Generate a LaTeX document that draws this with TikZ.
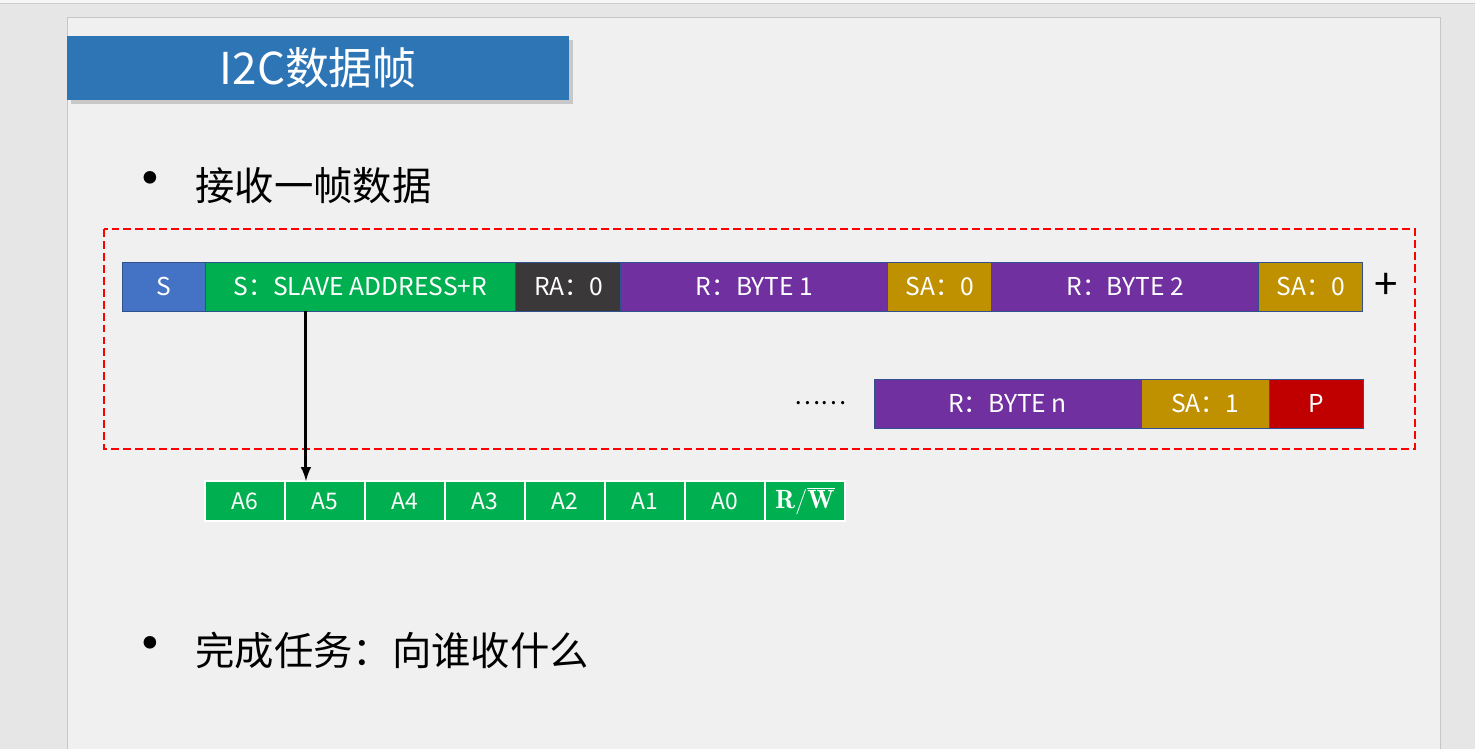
\documentclass[tikz,border=0pt]{standalone}
\usepackage{fontspec}
\newfontfamily\cjk{Noto Sans CJK SC}
\usetikzlibrary{arrows, positioning, shadows}

\definecolor{deskgray}{HTML}{E6E6E6}
\definecolor{slidegray}{HTML}{F0F0F0}
\definecolor{titleblue}{HTML}{2E75B6}
\definecolor{edgeblue}{HTML}{2F528F}
\definecolor{startblue}{HTML}{4472C4}
\definecolor{addrgreen}{HTML}{00B050}
\definecolor{ackdark}{HTML}{3A3838}
\definecolor{datapurple}{HTML}{7030A0}
\definecolor{sackgold}{HTML}{BF9000}
\definecolor{stopred}{HTML}{C00000}

\begin{document}
\begin{tikzpicture}[
  x=0.02cm, y=-0.02cm,
  node distance=0pt and 0pt,
  cell/.style={draw=edgeblue, line width=0.5pt, rectangle, outer sep=0pt,
               minimum height=0.98cm, inner sep=0pt,
               font=\cjk\fontsize{14}{16}\selectfont, text=white},
  startcell/.style={cell, fill=startblue, minimum width=1.66cm},
  addrcell/.style={cell, fill=addrgreen, minimum width=6.22cm},
  ackcell/.style={cell, fill=ackdark, minimum width=2.10cm},
  datacell/.style={cell, fill=datapurple, minimum width=5.34cm},
  sackcell/.style={cell, fill=sackgold, minimum width=2.08cm},
  stopcell/.style={cell, fill=stopred, minimum width=1.88cm},
  bitcell/.style={draw=white, line width=1.2pt, rectangle, fill=addrgreen, outer sep=0pt,
                  minimum width=1.60cm, minimum height=0.80cm, inner sep=0pt,
                  font=\cjk\fontsize{13}{15}\selectfont, text=white},
  bullet/.style={font=\cjk\fontsize{22.4}{26}\selectfont, anchor=west, inner sep=0pt},
  dotmark/.style={font=\cjk\fontsize{34}{36}\selectfont, inner sep=0pt},
  frame/.style={draw=red, line width=0.6pt, dash pattern=on 4.5pt off 2.3pt},
  arrow/.style={-latex, line width=1.7pt},
]
  \useasboundingbox (0,0) rectangle (1475,749);
  \fill[deskgray] (0,0) rectangle (1475,749);
  \fill[slidegray!60!white] (0,0) rectangle (1475,3);
  \draw[gray!40] (0,3) -- (1475,3);
  \fill[slidegray, draw=gray!45] (67,17) rectangle (1440,760);

  % title bar
  \node[fill=titleblue, anchor=north west, minimum width=10.04cm, minimum height=1.28cm,
        drop shadow={opacity=0.35, shadow xshift=2pt, shadow yshift=-2pt},
        font=\cjk\fontsize{25}{30}\selectfont, text=white] (title) at (67,36) {I2C数据帧};

  \node[dotmark] (dot1) at (150,186) {•};
  \node[bullet] (task1) at (195,186) {接收一帧数据};

  % frame, first line
  \draw[frame] (104,229) rectangle (1415,449);
  \node[startcell, anchor=north west] (start) at (122,262) {S};
  \node[addrcell, right=of start] (slave) {S：SLAVE ADDRESS+R};
  \node[ackcell, right=of slave] (ra) {RA：0};
  \node[datacell, right=of ra] (byte1) {R：BYTE 1};
  \node[sackcell, right=of byte1] (sa1) {SA：0};
  \node[datacell, right=of sa1] (byte2) {R：BYTE 2};
  \node[sackcell, right=of byte2] (sa2) {SA：0};
  \node[font=\cjk\fontsize{24}{26}\selectfont, right=3pt of sa2] (more) {+};

  % second line
  \node[stopcell, anchor=north east] (stop) at (1363,379) {P};
  \node[sackcell, minimum width=2.56cm, left=of stop] (sa3) {SA：1};
  \node[datacell, left=of sa3] (byten) {R：BYTE n};
  \node[font=\cjk\fontsize{14}{16}\selectfont, left=12pt of byten] (dots) {……};

  % address bits
  \node[bitcell, anchor=north west] (a6) at (205,481) {A6};
  \node[bitcell, right=of a6] (a5) {A5};
  \node[bitcell, right=of a5] (a4) {A4};
  \node[bitcell, right=of a4] (a3) {A3};
  \node[bitcell, right=of a3] (a2) {A2};
  \node[bitcell, right=of a2] (a1) {A1};
  \node[bitcell, right=of a1] (a0) {A0};
  \node[bitcell, font=\fontsize{15}{17}\selectfont, right=of a0] (rw) {$\mathbf{R/\overline{W}}$};
  \coordinate (tap) at ([xshift=0.42cm]a5.north west);
  \draw[arrow] (tap |- slave.south) -- (tap);

  \node[dotmark] (dot2) at (150,651) {•};
  \node[bullet] (task2) at (195,651) {完成任务：向谁收什么};
\end{tikzpicture}
\end{document}
